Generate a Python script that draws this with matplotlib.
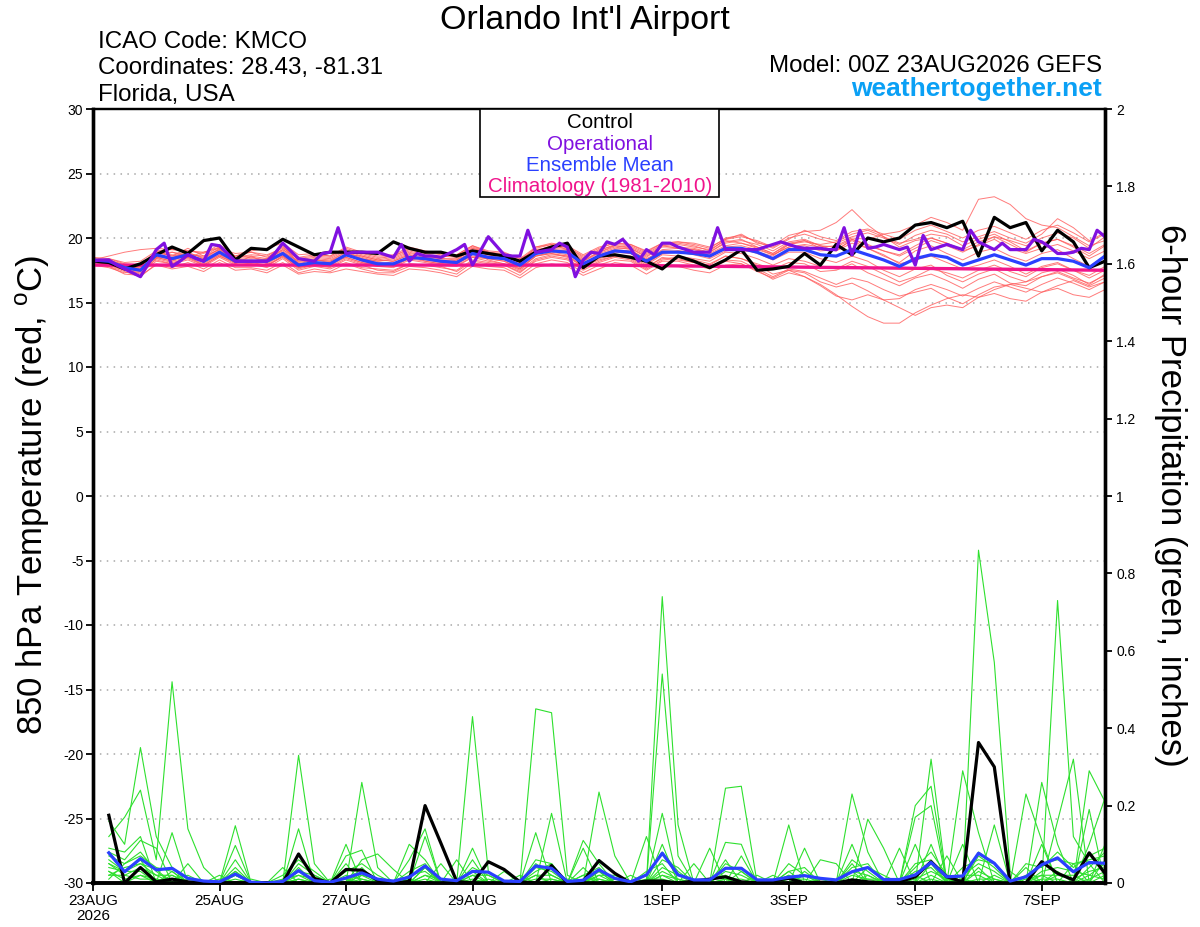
import numpy as np
import matplotlib
matplotlib.use("Agg")
import matplotlib.pyplot as plt
from matplotlib.patches import Rectangle

plt.rcParams['font.family'] = ['Liberation Sans', 'DejaVu Sans']
plt.rcParams['mathtext.fontset'] = 'custom'
plt.rcParams['mathtext.rm'] = 'Liberation Sans'

# ---------------- data ----------------
# 6-hourly steps (0..384 h), in days from 00Z 23AUG2026
tick_days = [0, 2, 4, 6, 9, 11, 13, 15]
tick_labels = ['23AUG\n2026', '25AUG', '27AUG', '29AUG', '1SEP', '3SEP', '5SEP', '7SEP']

control_t = [
    18.2, 18.1, 17.6, 18.0, 18.7, 19.3, 18.8, 19.8, 20.0, 18.3, 19.2, 19.1, 19.9,
    19.3, 18.7, 18.9, 18.9, 18.9, 18.8, 19.7, 19.2, 18.9, 18.9, 18.6, 19.0, 18.8,
    18.6, 18.2, 18.9, 19.3, 19.6, 17.7, 18.6, 18.7, 18.5, 18.2, 17.6, 18.6, 18.2,
    17.7, 18.3, 19.1, 17.5, 17.6, 17.8, 18.8, 17.9, 19.5, 18.7, 20.0, 19.7, 20.0,
    21.0, 21.2, 20.8, 21.3, 18.6, 21.6, 20.8, 21.2, 19.0, 20.6, 19.7, 17.7, 18.2]

mean_t = [
    18.3, 18.2, 17.7, 17.5, 18.7, 18.4, 18.7, 18.2, 18.9, 18.2, 18.2, 18.2, 18.8,
    17.9, 18.1, 18.0, 18.7, 18.3, 18.0, 18.0, 18.5, 18.4, 18.2, 18.1, 18.8, 18.5,
    18.4, 17.9, 18.8, 19.0, 18.9, 18.0, 18.6, 19.0, 18.9, 18.2, 18.9, 18.9, 18.8,
    18.6, 19.2, 19.2, 18.9, 18.4, 19.1, 19.1, 18.7, 18.6, 19.1, 18.7, 18.3, 17.8,
    18.4, 18.7, 18.5, 17.9, 18.3, 18.7, 18.3, 17.9, 18.4, 18.4, 18.2, 17.7, 18.6]

# operational run, 3-hourly (0..384 h)
oper_t = [
    18.2, 18.3, 18.3, 17.9, 17.6, 17.3, 17.0, 18.0, 19.1, 19.6, 17.8, 18.2, 18.7, 18.4, 18.2, 19.5,
    19.4, 18.8, 18.2, 18.2, 18.2, 18.2, 18.2, 18.8, 19.6, 19.0, 18.4, 18.3, 18.2, 18.8, 18.9, 20.8,
    18.8, 18.9, 18.9, 18.9, 18.9, 18.7, 18.5, 19.5, 18.2, 18.8, 18.6, 18.6, 18.5, 18.8, 19.1, 19.5,
    17.9, 19.0, 20.1, 19.4, 18.7, 18.6, 18.6, 20.6, 18.9, 19.0, 19.1, 19.6, 19.3, 17.0, 18.3, 18.9,
    18.8, 19.7, 19.5, 19.9, 19.2, 18.2, 19.1, 18.7, 19.6, 19.6, 19.3, 19.1, 18.9, 18.9, 18.9, 20.8,
    19.1, 19.1, 19.1, 19.1, 19.1, 19.3, 19.5, 19.7, 19.5, 19.3, 19.2, 19.2, 19.2, 19.1, 19.1, 20.8,
    18.7, 20.6, 19.2, 19.3, 19.5, 19.3, 19.1, 19.3, 17.9, 20.2, 19.1, 19.3, 19.5, 19.3, 19.1, 20.6,
    19.7, 19.4, 19.1, 19.6, 19.1, 19.1, 19.1, 19.9, 19.7, 19.3, 18.8, 18.8, 18.9, 19.2, 19.1, 20.6,
    20.1]

# climatology, daily
clim_t = [17.9, 17.9, 17.9, 17.9, 17.9, 17.9, 17.9, 17.9, 17.9,
          17.85, 17.8, 17.75, 17.7, 17.65, 17.6, 17.55, 17.5]

mem_t01 = [18.1, 18.0, 17.6, 17.8, 18.4, 18.9, 18.5, 18.9, 19.3, 18.0, 18.6, 18.4, 19.4,
           18.0, 18.3, 18.2, 18.9, 18.5, 18.2, 18.4, 18.9, 18.6, 18.4, 18.3, 19.2, 18.9,
           18.6, 18.1, 19.3, 19.5, 19.1, 18.2, 18.9, 19.4, 19.2, 18.5, 19.4, 19.2, 19.1,
           18.9, 19.7, 19.9, 19.3, 18.8, 19.6, 19.8, 19.2, 19.0, 19.9, 19.5, 19.0, 18.6,
           19.2, 19.8, 19.4, 18.9, 19.5, 20.1, 19.5, 18.9, 19.6, 19.9, 19.3, 18.6, 19.4]
mem_t02 = [18.0, 17.8, 17.2, 17.1, 17.9, 17.6, 17.8, 17.4, 18.1, 17.5, 17.6, 17.3, 17.9,
           17.2, 17.4, 17.3, 17.6, 17.4, 17.2, 17.1, 17.6, 17.5, 17.3, 17.0, 17.8, 17.6,
           17.5, 16.9, 17.7, 18.0, 17.8, 17.1, 17.6, 18.1, 17.9, 17.2, 17.9, 17.8, 17.5,
           17.3, 17.9, 18.0, 17.4, 16.9, 17.5, 17.3, 16.6, 16.2, 16.5, 15.9, 15.2, 14.6,
           14.0, 14.6, 14.8, 14.6, 15.4, 15.7, 15.3, 15.1, 15.8, 16.1, 15.6, 15.4, 16.0]
mem_t03 = [18.4, 18.3, 17.9, 17.6, 18.5, 18.2, 18.9, 18.4, 19.0, 18.5, 18.6, 18.0, 18.7,
           17.7, 18.0, 18.1, 18.5, 18.1, 17.9, 18.2, 18.7, 18.2, 18.0, 18.3, 18.9, 18.3,
           18.0, 17.6, 18.6, 18.8, 18.5, 17.8, 18.3, 18.6, 18.5, 17.8, 18.4, 18.5, 18.3,
           18.0, 18.6, 18.4, 17.9, 17.2, 17.5, 17.0, 16.4, 15.6, 14.7, 13.9, 13.4, 13.4,
           14.2, 14.8, 15.3, 15.6, 15.4, 16.0, 16.4, 16.1, 15.8, 16.3, 16.7, 16.2, 16.6]
mem_t04 = [18.2, 18.4, 18.0, 17.9, 19.0, 18.6, 19.2, 18.6, 19.1, 18.6, 18.9, 18.5, 19.1,
           18.4, 18.6, 18.5, 19.1, 18.7, 18.4, 18.6, 19.1, 18.8, 18.5, 18.7, 19.4, 18.9,
           18.8, 18.4, 19.0, 19.4, 19.3, 18.5, 19.0, 19.5, 19.4, 18.8, 19.5, 19.6, 19.4,
           19.0, 19.9, 20.3, 19.6, 19.4, 20.2, 20.5, 20.6, 21.2, 22.2, 21.0, 20.1, 19.3,
           19.8, 20.0, 19.6, 19.0, 19.4, 19.9, 19.2, 18.8, 19.2, 19.5, 19.0, 18.4, 19.0]
mem_t05 = [18.3, 18.1, 17.8, 17.7, 18.6, 18.5, 18.8, 18.1, 18.7, 18.3, 18.4, 18.3, 18.9,
           18.2, 18.3, 18.1, 18.6, 18.4, 18.1, 18.0, 18.5, 18.3, 18.1, 18.0, 18.6, 18.4,
           18.2, 17.7, 18.6, 18.9, 18.7, 18.0, 18.7, 19.1, 19.0, 18.4, 19.0, 19.0, 18.9,
           18.7, 19.3, 19.4, 19.1, 18.7, 19.3, 19.5, 19.3, 19.4, 20.0, 19.9, 20.3, 20.5,
           21.0, 21.6, 21.2, 20.6, 23.0, 23.2, 22.6, 21.5, 21.0, 20.8, 20.1, 19.4, 19.8]
mem_t06 = [18.0, 17.9, 17.5, 17.3, 18.2, 18.0, 18.3, 17.8, 18.5, 17.9, 18.0, 17.7, 18.4,
           17.5, 17.8, 17.6, 18.1, 17.7, 17.6, 17.5, 18.0, 17.9, 17.8, 17.4, 18.2, 18.0,
           17.9, 17.4, 18.2, 18.5, 18.3, 17.5, 18.1, 18.5, 18.3, 17.6, 18.3, 18.4, 18.1,
           17.9, 18.6, 18.4, 18.0, 17.6, 18.1, 18.0, 17.4, 17.5, 18.0, 17.3, 16.8, 16.3,
           16.9, 17.2, 16.7, 16.1, 16.8, 17.2, 16.5, 16.3, 17.0, 17.4, 16.9, 16.5, 17.1]
mem_t07 = [18.5, 18.4, 18.1, 18.2, 19.0, 19.1, 19.0, 18.8, 19.5, 18.6, 19.0, 19.2, 19.6,
           18.7, 18.8, 18.6, 19.3, 18.9, 18.6, 18.7, 19.3, 19.0, 18.8, 18.7, 19.4, 19.0,
           18.9, 18.4, 19.3, 19.6, 19.4, 18.7, 19.3, 19.6, 19.5, 19.0, 19.6, 19.7, 19.6,
           19.3, 19.9, 20.1, 19.8, 19.3, 20.0, 20.3, 19.9, 19.6, 20.1, 20.4, 20.0, 19.5,
           20.2, 20.6, 20.3, 19.7, 20.1, 20.5, 20.0, 19.6, 20.3, 21.5, 20.8, 19.8, 20.4]
mem_t08 = [17.9, 17.7, 17.3, 17.6, 18.3, 18.0, 18.5, 17.9, 18.6, 18.0, 17.9, 17.8, 18.6,
           17.6, 17.9, 17.8, 18.4, 18.0, 17.8, 17.7, 18.3, 18.1, 17.9, 17.8, 18.5, 18.2,
           18.0, 17.5, 18.4, 18.7, 18.6, 17.8, 18.4, 18.7, 18.6, 17.9, 18.7, 18.6, 18.4,
           18.2, 18.9, 18.8, 18.4, 17.9, 18.4, 18.2, 17.8, 17.6, 18.2, 17.8, 17.2, 16.6,
           17.0, 17.6, 17.3, 16.9, 17.5, 17.9, 17.4, 17.0, 17.7, 18.0, 17.5, 17.1, 17.8]
mem_t09 = [18.2, 18.2, 17.8, 17.4, 18.6, 18.3, 18.6, 18.3, 18.9, 18.2, 18.3, 18.1, 18.7,
           17.9, 18.1, 18.0, 18.8, 18.2, 17.9, 17.8, 18.4, 18.4, 18.1, 18.0, 18.7, 18.6,
           18.3, 17.8, 18.9, 19.1, 19.0, 18.1, 18.5, 19.0, 18.8, 18.1, 18.8, 19.0, 18.9,
           18.5, 19.2, 19.0, 18.9, 18.6, 19.5, 19.8, 19.4, 19.0, 19.6, 19.2, 18.7, 18.0,
           18.3, 18.6, 18.1, 17.6, 17.9, 18.3, 17.8, 17.2, 17.8, 18.1, 17.5, 16.9, 17.5]
mem_t10 = [18.3, 18.0, 17.7, 17.5, 18.8, 18.7, 18.6, 18.4, 19.2, 18.4, 18.2, 18.4, 19.0,
           18.1, 18.3, 18.2, 18.7, 18.6, 18.3, 18.2, 18.7, 18.5, 18.3, 18.2, 18.9, 18.7,
           18.6, 18.1, 18.9, 19.2, 19.1, 18.3, 18.9, 19.3, 19.1, 18.3, 19.1, 19.2, 19.1,
           18.8, 19.4, 19.6, 19.2, 18.7, 19.3, 19.4, 19.0, 19.1, 19.8, 19.2, 18.6, 18.1,
           19.0, 19.4, 18.8, 18.3, 18.9, 19.2, 18.6, 18.2, 18.8, 19.1, 18.4, 17.8, 18.6]
mem_t11 = [18.1, 18.1, 17.6, 17.2, 18.4, 18.1, 18.4, 17.9, 18.6, 18.1, 18.0, 17.9, 18.5,
           17.7, 17.9, 17.7, 18.3, 17.9, 17.5, 17.4, 18.0, 17.9, 17.7, 17.5, 18.3, 18.1,
           17.9, 17.3, 18.3, 18.6, 18.4, 17.6, 18.2, 18.6, 18.4, 17.7, 18.5, 18.3, 18.1,
           17.8, 18.3, 18.2, 17.6, 17.0, 17.6, 17.4, 16.9, 16.4, 16.9, 16.6, 16.0, 15.5,
           15.8, 16.1, 15.4, 14.9, 15.6, 16.2, 16.4, 16.6, 17.0, 17.3, 16.8, 16.3, 16.9]
mem_t12 = [18.4, 18.3, 17.9, 17.8, 18.9, 18.6, 18.8, 18.5, 19.1, 18.4, 18.5, 18.3, 19.1,
           18.2, 18.4, 18.3, 18.9, 18.4, 18.2, 18.3, 18.8, 18.6, 18.4, 18.4, 19.1, 18.7,
           18.4, 18.0, 18.9, 19.1, 18.9, 18.2, 18.8, 19.2, 19.2, 18.6, 19.3, 19.3, 19.2,
           18.9, 19.6, 19.8, 19.5, 19.0, 19.7, 19.9, 19.4, 19.3, 19.9, 19.4, 19.0, 18.7,
           19.4, 20.0, 19.6, 19.1, 19.7, 20.1, 19.8, 19.4, 20.0, 20.4, 20.0, 19.2, 20.1]
mem_t13 = [17.9, 17.8, 17.4, 17.0, 18.0, 17.7, 18.1, 17.6, 18.3, 17.7, 17.7, 17.5, 18.1,
           17.3, 17.6, 17.4, 18.0, 17.6, 17.3, 17.3, 17.8, 17.7, 17.5, 17.2, 18.1, 17.8,
           17.7, 17.1, 18.0, 18.3, 18.1, 17.3, 17.9, 18.3, 18.2, 17.5, 18.2, 18.2, 17.9,
           17.6, 18.2, 18.0, 17.5, 16.8, 17.3, 17.0, 16.3, 15.5, 15.2, 15.6, 15.2, 15.3,
           16.0, 16.4, 16.0, 15.5, 16.1, 16.6, 16.2, 15.8, 16.4, 16.9, 16.5, 16.0, 16.6]
mem_t14 = [18.3, 18.2, 17.8, 18.0, 18.8, 18.9, 18.7, 18.6, 19.3, 18.5, 18.7, 18.6, 19.3,
           18.3, 18.5, 18.4, 19.0, 18.6, 18.3, 18.5, 19.0, 18.7, 18.6, 18.5, 19.2, 18.8,
           18.7, 18.2, 19.1, 19.3, 19.2, 18.4, 19.1, 19.4, 19.3, 18.7, 19.4, 19.5, 19.3,
           19.1, 19.8, 19.6, 19.3, 18.8, 19.5, 19.7, 19.5, 19.7, 20.3, 20.6, 20.1, 19.6,
           19.9, 20.3, 20.1, 19.4, 19.9, 20.3, 19.7, 19.0, 19.6, 19.9, 19.4, 18.8, 19.5]
mem_t15 = [18.2, 17.9, 17.5, 17.4, 18.5, 18.2, 18.5, 18.0, 18.7, 18.1, 18.1, 17.9, 18.6,
           17.8, 18.0, 17.9, 18.5, 18.1, 17.8, 17.9, 18.4, 18.2, 18.0, 17.9, 18.5, 18.4,
           18.2, 17.6, 18.6, 18.8, 18.6, 17.9, 18.5, 18.9, 18.8, 18.0, 18.8, 18.9, 18.7,
           18.4, 19.0, 19.2, 18.8, 18.3, 18.9, 18.9, 18.4, 18.1, 18.6, 18.2, 17.5, 17.0,
           17.6, 17.9, 17.1, 16.6, 17.2, 17.6, 17.0, 16.6, 17.3, 17.6, 17.1, 16.4, 17.2]
mem_t16 = [18.3, 18.6, 18.9, 19.1, 19.2, 19.1, 19.0, 18.9, 19.2, 18.8, 18.9, 18.7, 19.2,
           18.5, 18.7, 18.6, 19.2, 18.8, 18.5, 18.6, 19.2, 18.9, 18.7, 18.6, 19.3, 18.9,
           18.7, 18.3, 19.2, 19.5, 19.3, 18.6, 19.2, 19.6, 19.5, 18.9, 19.6, 19.7, 19.5,
           19.2, 20.0, 20.2, 19.7, 19.2, 19.9, 20.6, 20.1, 19.8, 20.5, 20.7, 20.3, 19.9,
           20.6, 21.0, 20.5, 20.0, 20.6, 20.9, 20.4, 19.9, 20.6, 21.0, 20.4, 19.7, 20.3]

# 6-hour precipitation (inches), steps 6..384 h
control_p = [
    0.175, 0.0, 0.04, 0.003, 0.01, 0.003, 0.0, 0.0, 0.0, 0.0, 0.0, 0.0, 0.075, 0.012, 0.0, 0.035,
    0.033, 0.007, 0.0, 0.004, 0.2, 0.103, 0.004, 0.0, 0.055, 0.035, 0.003, 0.0, 0.045, 0.0, 0.005, 0.058,
    0.025, 0.0, 0.005, 0.005, 0.0, 0.005, 0.01, 0.016, 0.003, 0.0, 0.006, 0.012, 0.0, 0.002, 0.0, 0.008,
    0.003, 0.0, 0.003, 0.016, 0.055, 0.016, 0.003, 0.363, 0.3, 0.0, 0.0, 0.055, 0.025, 0.008, 0.078, 0.025]
mean_p = [
    0.078, 0.029, 0.063, 0.034, 0.038, 0.012, 0.005, 0.003, 0.023, 0.002, 0.0, 0.004, 0.032, 0.006, 0.002, 0.013,
    0.026, 0.01, 0.005, 0.015, 0.044, 0.01, 0.006, 0.03, 0.028, 0.005, 0.004, 0.044, 0.038, 0.004, 0.007, 0.034,
    0.012, 0.003, 0.021, 0.077, 0.021, 0.008, 0.008, 0.038, 0.038, 0.008, 0.008, 0.015, 0.019, 0.012, 0.008, 0.029,
    0.04, 0.009, 0.009, 0.021, 0.053, 0.016, 0.018, 0.077, 0.051, 0.005, 0.016, 0.047, 0.065, 0.029, 0.053, 0.051]

# ensemble members: {step index (1..64): inches}; unlisted steps read as 0
mem_p01 = {1: .16, 2: .10, 3: .35, 4: .12, 5: .04, 9: .06, 13: .33, 14: .05, 21: .04, 24: .06,
           28: .45, 29: .44, 30: .02, 36: .18, 40: .06, 44: .15, 48: .03, 53: .32, 56: .08,
           57: .05, 61: .73, 62: .12, 63: .05}
mem_p02 = {1: .12, 2: .17, 3: .24, 4: .06, 5: .52, 6: .14, 7: .04, 12: .04, 17: .26, 18: .04,
           24: .43, 25: .03, 31: .11, 32: .05, 36: .74, 37: .15, 41: .07, 49: .165, 50: .09,
           56: .86, 57: .57, 58: .03, 60: .10, 63: .19}
mem_p03 = {1: .09, 2: .08, 3: .12, 5: .13, 9: .148, 13: .14, 16: .10, 20: .06, 21: .14, 29: .18,
           32: .235, 33: .07, 36: .54, 37: .07, 40: .245, 41: .25, 45: .09, 48: .23, 49: .08,
           52: .20, 53: .25, 55: .10, 59: .23, 60: .11, 63: .29, 64: .21}
mem_p04 = {1: .08, 2: .06, 3: .11, 4: .09, 9: .097, 16: .07, 17: .085, 22: .05, 28: .13, 31: .09,
           35: .12, 39: .09, 44: .02, 48: .10, 52: .17, 53: .20, 55: .29, 56: .13, 61: .16,
           62: .32, 64: .10}
mem_p05 = {1: .07, 2: .05, 3: .08, 4: .03, 6: .05, 8: .02, 17: .06, 18: .075, 19: .035, 21: .12,
           23: .06, 28: .06, 29: .05, 32: .02, 36: .10, 40: .105, 41: .10, 46: .06, 47: .05,
           51: .09, 53: .10, 57: .15, 60: .26, 61: .10, 63: .10, 64: .22}
mem_p06 = {1: .06, 2: .03, 3: .06, 5: .03, 10: .01, 13: .05, 14: .02, 16: .05, 20: .10, 21: .06,
           24: .09, 26: .03, 31: .04, 34: .02, 38: .05, 43: .02, 48: .05, 52: .10, 54: .07,
           59: .04, 62: .05, 64: .06}
mem_p07 = {1: .05, 2: .03, 3: .05, 4: .02, 9: .03, 13: .04, 15: .01, 17: .03, 24: .02, 25: .02,
           27: .02, 30: .01, 32: .03, 35: .03, 36: .05, 42: .02, 45: .03, 49: .04, 50: .02,
           53: .05, 56: .04, 61: .03, 63: .04, 64: .08}
mem_p08 = {1: .05, 2: .02, 3: .04, 4: .02, 5: .02, 9: .02, 13: .03, 17: .02, 20: .02, 21: .03,
           24: .03, 28: .04, 29: .03, 32: .02, 33: .02, 36: .04, 37: .02, 40: .03, 41: .02,
           44: .02, 48: .03, 49: .02, 52: .03, 53: .04, 55: .02, 56: .05, 57: .03, 60: .03,
           61: .04, 62: .03, 63: .02, 64: .05}
mem_p09 = {1: .04, 2: .03, 3: .03, 5: .01, 6: .02, 12: .01, 13: .02, 14: .01, 16: .02, 17: .01,
           21: .02, 22: .01, 24: .01, 28: .02, 29: .02, 31: .01, 32: .01, 36: .03, 37: .01,
           39: .01, 40: .02, 44: .01, 45: .01, 48: .02, 49: .01, 50: .01, 52: .01, 53: .03,
           54: .01, 56: .03, 57: .01, 59: .01, 60: .02, 61: .02, 62: .01, 63: .03, 64: .04}
mem_p10 = {1: .03, 2: .01, 3: .02, 4: .01, 9: .01, 13: .01, 17: .02, 18: .01, 21: .01, 25: .01,
           28: .01, 29: .01, 33: .01, 36: .02, 40: .01, 41: .01, 46: .01, 49: .02, 53: .02,
           55: .01, 57: .02, 60: .01, 61: .01, 63: .01, 64: .03}
mem_p11 = {1: .03, 3: .02, 5: .02, 8: .01, 13: .02, 16: .01, 20: .01, 24: .02, 29: .01, 31: .02,
           35: .01, 36: .01, 41: .03, 44: .03, 48: .01, 50: .01, 52: .02, 55: .02, 56: .02,
           59: .02, 61: .02, 62: .02, 64: .02}
mem_p12 = {1: .02, 2: .02, 3: .01, 4: .01, 6: .01, 9: .02, 13: .01, 17: .01, 21: .02, 23: .01,
           28: .02, 32: .01, 36: .02, 37: .01, 40: .01, 45: .02, 49: .01, 53: .01, 56: .01,
           57: .01, 60: .02, 63: .02, 64: .01}
mem_p13 = {1: .02, 2: .04, 3: .05, 4: .035, 9: .04, 12: .02, 13: .06, 14: .03, 17: .04, 20: .03,
           21: .05, 28: .03, 29: .05, 31: .02, 32: .04, 36: .06, 37: .04, 40: .04, 41: .04,
           44: .03, 45: .04, 48: .04, 49: .05, 52: .05, 53: .06, 55: .04, 56: .06, 57: .05,
           60: .05, 61: .06, 62: .05, 63: .06, 64: .07}
mem_p14 = {1: .01, 2: .05, 3: .07, 4: .04, 5: .03, 9: .03, 13: .03, 14: .02, 16: .03, 17: .05,
           18: .02, 21: .04, 24: .04, 25: .02, 28: .05, 29: .02, 32: .03, 35: .02, 36: .08,
           37: .03, 40: .05, 41: .03, 44: .05, 45: .02, 48: .06, 49: .03, 52: .04, 53: .08,
           54: .02, 56: .07, 57: .04, 59: .05, 60: .04, 61: .08, 62: .04, 63: .07, 64: .09}

temp_members = [mem_t01, mem_t02, mem_t03, mem_t04, mem_t05, mem_t06, mem_t07, mem_t08,
                mem_t09, mem_t10, mem_t11, mem_t12, mem_t13, mem_t14, mem_t15, mem_t16]
prec_members = [mem_p01, mem_p02, mem_p03, mem_p04, mem_p05, mem_p06, mem_p07,
                mem_p08, mem_p09, mem_p10, mem_p11, mem_p12, mem_p13, mem_p14]

# ---------------- styles ----------------
C_RED = '#ff5a5a'
C_GREEN = '#2ee02e'
C_OPER = '#8010e0'
C_MEAN = '#2a40ff'
C_CLIM = '#f0148c'
C_SITE = '#0aa0f5'

days_t = np.arange(len(control_t)) * 0.25
days_op = np.arange(len(oper_t)) * 0.125
days_p = np.arange(1, len(control_p) + 1) * 0.25
days_clim = np.arange(len(clim_t))

W, H = 1200, 927
fig = plt.figure(figsize=(W / 100, H / 100), dpi=100)
ax = fig.add_axes([93 / W, 44 / H, 1012 / W, 774 / H])
ax.set_xlim(0, 16)
ax.set_ylim(-30, 30)
ax.set_axisbelow(True)
ax.grid(axis='y', linestyle=(0, (1, 3.5)), color='#a8a8a8', lw=1.1)
ax.grid(axis='x', visible=False)

for m in temp_members:
    ax.plot(days_t, m, color=C_RED, lw=0.7, alpha=0.8, zorder=2)
ax.plot(days_clim, clim_t, color=C_CLIM, lw=2.4, zorder=3)
ax.plot(days_t, control_t, color='black', lw=2.3, zorder=4)
ax.plot(days_t, mean_t, color=C_MEAN, lw=2.3, zorder=5)
ax.plot(days_op, oper_t, color=C_OPER, lw=2.3, zorder=6)

ax2 = ax.twinx()
ax2.set_ylim(0, 2)
for d in prec_members:
    vals = np.zeros(len(days_p))
    for k, v in d.items():
        vals[k - 1] = v
    ax2.plot(days_p, vals, color=C_GREEN, lw=0.8, zorder=2)
ax2.plot(days_p, control_p, color='black', lw=2.3, zorder=4)
ax2.plot(days_p, mean_p, color=C_MEAN, lw=2.3, zorder=5)

ax.set_xticks(tick_days)
ax.set_xticklabels(tick_labels, fontsize=11, linespacing=1.05)
ax.set_yticks(np.arange(-30, 31, 5))
ax.set_yticklabels([str(v) for v in range(-30, 31, 5)], fontsize=10)
pt = np.round(np.arange(0, 2.01, 0.2), 1)
ax2.set_yticks(pt)
ax2.set_yticklabels([('%g' % v) for v in pt], fontsize=10)

ax.tick_params(axis='x', direction='out', length=6, width=1.3, pad=2)
ax.tick_params(axis='y', direction='out', length=5, width=1.3, pad=2)
ax2.tick_params(axis='y', direction='out', length=5, width=1.3, pad=3)

for a in (ax, ax2):
    a.spines['left'].set_linewidth(2.4)
    a.spines['bottom'].set_linewidth(2.6)
    a.spines['right'].set_linewidth(2.4)
    a.spines['top'].set_linewidth(1.6)

# titles / headers
fig.text(585 / W, 1 - 29 / H, "Orlando Int'l Airport", ha='center', va='baseline', fontsize=24.5)
fig.text(98 / W, 1 - 48 / H, "ICAO Code: KMCO", ha='left', va='baseline', fontsize=17.4)
fig.text(98 / W, 1 - 74 / H, "Coordinates: 28.43, -81.31", ha='left', va='baseline', fontsize=17.4)
fig.text(98 / W, 1 - 101 / H, "Florida, USA", ha='left', va='baseline', fontsize=17.4)
fig.text(1102 / W, 1 - 72 / H, "Model: 00Z 23AUG2026 GEFS", ha='right', va='baseline', fontsize=17.4)
fig.text(1102 / W, 1 - 96 / H, "weathertogether.net", ha='right', va='baseline',
         fontsize=19, fontweight='bold', color=C_SITE)

fig.text(33 / W, 1 - 495 / H, r"850 hPa Temperature (red, $^{\mathrm{o}}$C)", rotation=90,
         ha='center', va='center', fontsize=25)
fig.text(1170 / W, 1 - 495 / H, "6-hour Precipitation (green, inches)", rotation=-90,
         ha='center', va='center', fontsize=25)

# legend box
box = Rectangle((480 / W, 1 - 197 / H), 239 / W, 88 / H, transform=fig.transFigure,
                facecolor='white', edgecolor='black', lw=1.2, zorder=10)
fig.add_artist(box)
leg_items = [("Control", 'black', 128), ("Operational", C_OPER, 149.5),
             ("Ensemble Mean", C_MEAN, 171), ("Climatology (1981-2010)", C_CLIM, 192.5)]
for txt, col, yb in leg_items:
    fig.text(600 / W, 1 - yb / H, txt, ha='center', va='baseline', fontsize=14.8,
             color=col, zorder=11)

fig.savefig("out.png", dpi=100)
